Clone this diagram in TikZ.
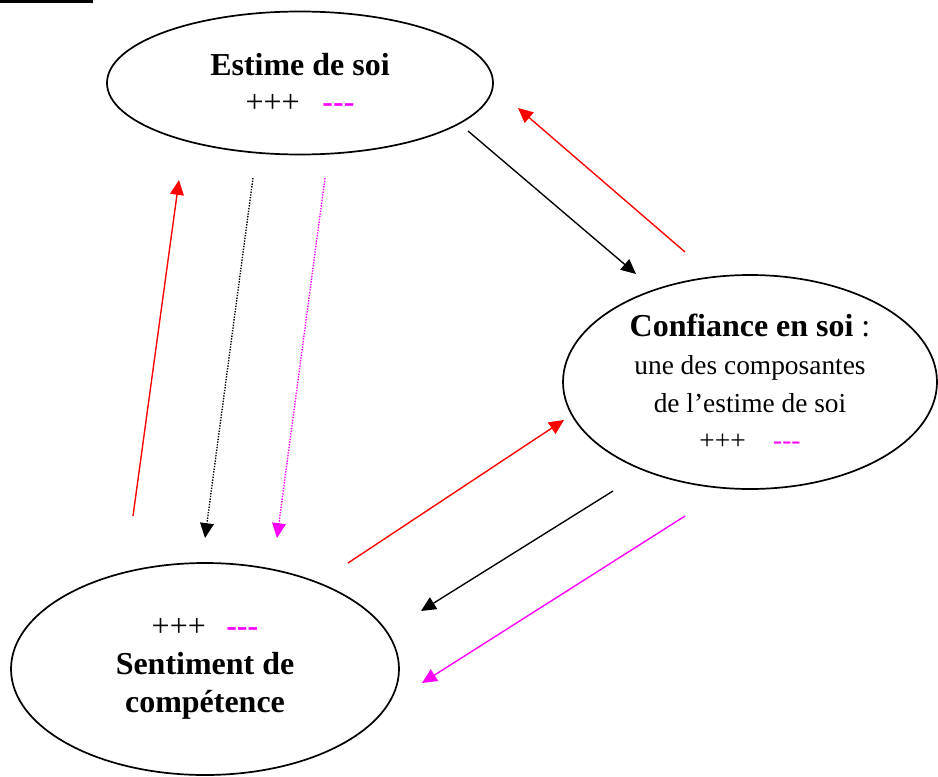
\documentclass[tikz,border=0pt]{standalone}
\usepackage{fontspec}
\setmainfont{Liberation Serif}
\usetikzlibrary{shapes.geometric,arrows.meta}
\usepackage{xcolor}
\definecolor{Rose}{RGB}{255,0,255}
\definecolor{Rouge}{RGB}{255,0,0}
\newcommand{\upx}{0.438pt}
\newcommand{\moins}{-{}-{}-}
\newcommand{\petit}{\fontsize{12}{14}\selectfont}
\tikzset{
  bulle/.style={ellipse,draw=black,line width=0.75pt,inner sep=0pt,align=center,
                font=\fontsize{14}{16.5}\selectfont},
  fleche/.style={-{Triangle[length=6.5pt,width=6pt]},line width=0.6pt},
  pointille/.style={fleche,dash pattern=on 0.6pt off 0.6pt},
}

\begin{document}
\begin{tikzpicture}[x=\upx,y=-\upx]
  \useasboundingbox (0,0) rectangle (938,776);
  \fill (0,0) rectangle (93,3);

  \node[bulle,minimum width=386*\upx,minimum height=143*\upx] (estime) at (300,83)
    {\textbf{Estime de soi}\\+++\hspace{10pt}\textcolor{Rose}{\textbf{\moins}}};
  \node[bulle,minimum width=374*\upx,minimum height=214*\upx] (confiance) at (750,382)
    {\textbf{Confiance en soi} :\\
     \petit une des composantes\\
     \petit de l'estime de soi\\
     \petit +++\hspace{12pt}\textcolor{Rose}{\moins}};
  \node[bulle,minimum width=388*\upx,minimum height=212*\upx] (sentiment) at (205,669)
    {+++\hspace{9pt}\textcolor{Rose}{\textbf{\moins}}\\
     \textbf{Sentiment de}\\\textbf{compétence}};

  % extremites des fleches
  \coordinate (sent-es1) at (133,516);
  \coordinate (es-sent1) at (179,180);
  \coordinate (es-noir1) at (253,178);
  \coordinate (sent-noir1) at (205,538);
  \coordinate (es-rose1) at (325,178);
  \coordinate (sent-rose1) at (277,538);
  \coordinate (es-noir2) at (468,131);
  \coordinate (conf-noir1) at (636,274);
  \coordinate (conf-rouge1) at (685,252);
  \coordinate (es-rouge2) at (518,108);
  \coordinate (sent-rouge2) at (348,563);
  \coordinate (conf-rouge2) at (564,420);
  \coordinate (conf-noir2) at (613,491);
  \coordinate (sent-noir2) at (421,611);
  \coordinate (conf-rose2) at (685,516);
  \coordinate (sent-rose2) at (422,683);

  \draw[fleche,Rouge] (sent-es1) -- (es-sent1);
  \draw[pointille] (es-noir1) -- (sent-noir1);
  \draw[pointille,Rose] (es-rose1) -- (sent-rose1);
  \draw[fleche] (es-noir2) -- (conf-noir1);
  \draw[fleche,Rouge] (conf-rouge1) -- (es-rouge2);
  \draw[fleche,Rouge] (sent-rouge2) -- (conf-rouge2);
  \draw[fleche] (conf-noir2) -- (sent-noir2);
  \draw[fleche,Rose] (conf-rose2) -- (sent-rose2);
\end{tikzpicture}
\end{document}
